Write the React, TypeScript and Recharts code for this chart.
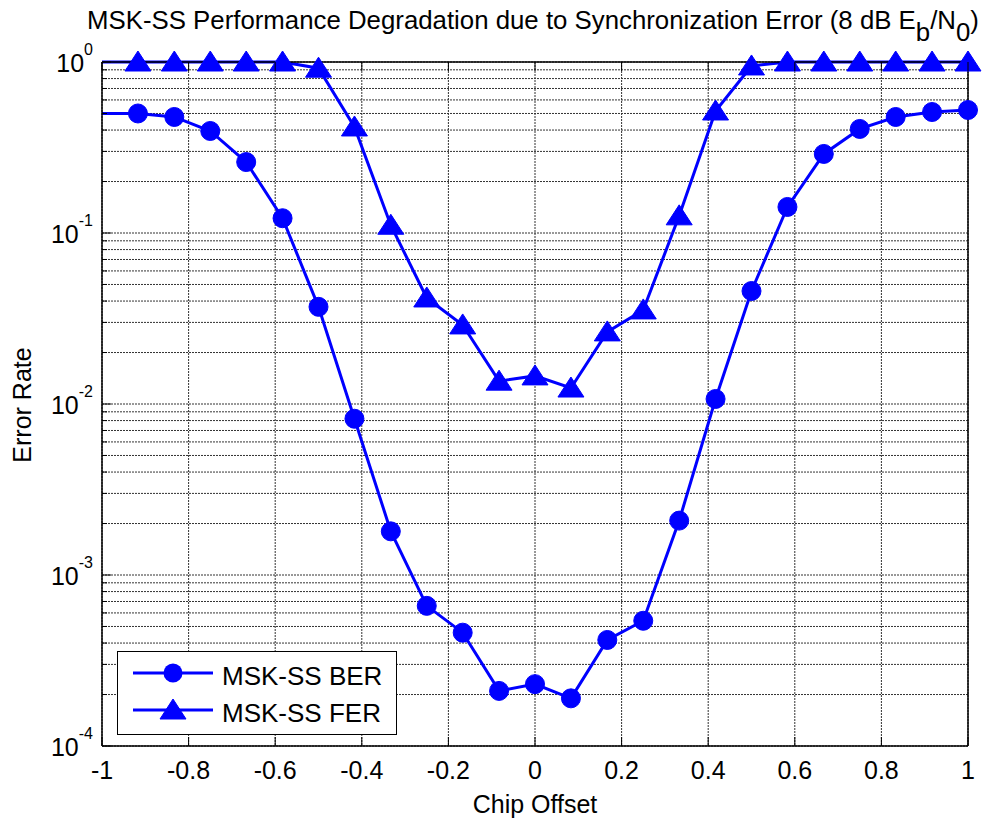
import React from "react";
import {
  LineChart,
  Line,
  XAxis,
  YAxis,
  CartesianGrid,
  Legend,
} from "recharts";

const FONT = '"Liberation Sans", Arial, Helvetica, sans-serif';
const BLUE = "#0000ff";

// chip offsets (steps of 1/12)
const chipOffsets = [
  -1, -0.917, -0.833, -0.75, -0.667, -0.583, -0.5, -0.417, -0.333, -0.25,
  -0.167, -0.083, 0, 0.083, 0.167, 0.25, 0.333, 0.417, 0.5, 0.583, 0.667,
  0.75, 0.833, 0.917, 1,
];

const berValues = [
  0.5, 0.5, 0.477, 0.395, 0.26, 0.122, 0.037, 0.0082, 0.0018, 0.00066,
  0.00046, 0.00021, 0.00023, 0.00019, 0.000417, 0.00054, 0.00208, 0.0107,
  0.0458, 0.142, 0.29, 0.406, 0.477, 0.51, 0.524,
];

const ferValues = [
  1, 1, 1, 1, 1, 1, 0.92, 0.417, 0.111, 0.0417, 0.029, 0.0136, 0.0146,
  0.0124, 0.0264, 0.0355, 0.126, 0.517, 0.948, 1, 1, 1, 1, 1, 1,
];

const xTicks = [-1, -0.8, -0.6, -0.4, -0.2, 0, 0.2, 0.4, 0.6, 0.8, 1];
const xTickLabels = ["-1", "-0.8", "-0.6", "-0.4", "-0.2", "0", "0.2", "0.4", "0.6", "0.8", "1"];

// log ticks: decades plus 2..9 minor lines
const yTicks = [
  0.0001, 0.0002, 0.0003, 0.0004, 0.0005, 0.0006, 0.0007, 0.0008, 0.0009,
  0.001, 0.002, 0.003, 0.004, 0.005, 0.006, 0.007, 0.008, 0.009,
  0.01, 0.02, 0.03, 0.04, 0.05, 0.06, 0.07, 0.08, 0.09,
  0.1, 0.2, 0.3, 0.4, 0.5, 0.6, 0.7, 0.8, 0.9, 1,
];
const decadeExponents: Record<string, string> = {
  "0.0001": "-4",
  "0.001": "-3",
  "0.01": "-2",
  "0.1": "-1",
  "1": "0",
};

const data = chipOffsets.map((x, i) => ({ x, ber: berValues[i], fer: ferValues[i] }));

const isMajor = (v: number) => decadeExponents[String(v)] !== undefined;

function LeftYTick(props: any) {
  const { x, y, payload } = props;
  const exp = decadeExponents[String(payload.value)];
  const len = exp !== undefined ? 9 : 5;
  return (
    <g>
      <line x1={x} x2={x + len} y1={y} y2={y} stroke="#000" />
      {exp !== undefined && (
        <text x={x - 9} y={y + 10} textAnchor="end" fontFamily={FONT} fontSize={25} fill="#000">
          10
          <tspan dy={-17} fontSize={16}>{exp}</tspan>
        </text>
      )}
    </g>
  );
}

function RightYTick(props: any) {
  const { x, y, payload } = props;
  const len = isMajor(payload.value) ? 9 : 5;
  return <line x1={x} x2={x - len} y1={y} y2={y} stroke="#000" />;
}

function BottomXTick(props: any) {
  const { x, y, payload, index } = props;
  return (
    <g>
      <line x1={x} x2={x} y1={y} y2={y - 9} stroke="#000" />
      <text x={x} y={y + 33} textAnchor="middle" fontFamily={FONT} fontSize={25} fill="#000">
        {xTickLabels[index] ?? String(payload.value)}
      </text>
    </g>
  );
}

function TopXTick(props: any) {
  const { x, y } = props;
  return <line x1={x} x2={x} y1={y} y2={y + 9} stroke="#000" />;
}

function CircleDot(props: any) {
  const { cx, cy, index } = props;
  if (index === 0 || cx == null || cy == null) return <g key={`c${index}`} />;
  return <circle key={`c${index}`} cx={cx} cy={cy} r={9.5} fill={BLUE} stroke={BLUE} />;
}

function TriangleMark({ cx, cy, color }: { cx: number; cy: number; color: string }) {
  return (
    <polygon
      points={`${cx},${cy - 11} ${cx + 13},${cy + 9} ${cx - 13},${cy + 9}`}
      fill={color}
      stroke={color}
    />
  );
}

function TriangleDot(props: any) {
  const { cx, cy, index } = props;
  if (index === 0 || cx == null || cy == null) return <g key={`t${index}`} />;
  return (
    <g key={`t${index}`}>
      <TriangleMark cx={cx} cy={cy} color={BLUE} />
    </g>
  );
}

function LegendBox() {
  return (
    <svg width={280} height={84} style={{ display: "block" }}>
      <rect x={0.5} y={0.5} width={279} height={83} fill="#fff" stroke="#000" />
      <line x1={16} x2={96} y1={22} y2={22} stroke={BLUE} strokeWidth={3} />
      <circle cx={56} cy={22} r={9.5} fill={BLUE} />
      <text x={105} y={34} fontFamily={FONT} fontSize={26} fill="#000">MSK-SS BER</text>
      <line x1={16} x2={96} y1={59} y2={59} stroke={BLUE} strokeWidth={3} />
      <TriangleMark cx={56} cy={59} color={BLUE} />
      <text x={105} y={71} fontFamily={FONT} fontSize={26} fill="#000">MSK-SS FER</text>
    </svg>
  );
}

export default function App() {
  return (
    <div style={{ position: "absolute", left: 0, top: 0, width: 982, height: 820, background: "#fff" }}>
      <LineChart
        width={982}
        height={820}
        data={data}
        margin={{ top: 61, right: 13, bottom: 73, left: 101 }}
      >
        <CartesianGrid stroke="#333" strokeDasharray="2 1" strokeWidth={1} />
        <XAxis
          dataKey="x"
          type="number"
          domain={[-1, 1]}
          ticks={xTicks}
          interval={0}
          height={1}
          tickSize={0}
          tickMargin={0}
          tickLine={false}
          axisLine={{ stroke: "#000", strokeWidth: 1.5 }}
          tick={<BottomXTick />}
        />
        <XAxis
          xAxisId="top"
          orientation="top"
          dataKey="x"
          type="number"
          domain={[-1, 1]}
          ticks={xTicks}
          interval={0}
          height={1}
          tickSize={0}
          tickMargin={0}
          tickLine={false}
          axisLine={{ stroke: "#000", strokeWidth: 1.5 }}
          tick={<TopXTick />}
        />
        <YAxis
          type="number"
          scale="log"
          domain={[0.0001, 1]}
          ticks={yTicks}
          interval={0}
          width={1}
          tickSize={0}
          tickMargin={0}
          tickLine={false}
          axisLine={{ stroke: "#000", strokeWidth: 1.5 }}
          tick={<LeftYTick />}
        />
        <YAxis
          yAxisId="right"
          orientation="right"
          type="number"
          scale="log"
          domain={[0.0001, 1]}
          ticks={yTicks}
          interval={0}
          width={1}
          tickSize={0}
          tickMargin={0}
          tickLine={false}
          axisLine={{ stroke: "#000", strokeWidth: 1.5 }}
          tick={<RightYTick />}
        />
        <Line
          dataKey="ber"
          name="MSK-SS BER"
          stroke={BLUE}
          strokeWidth={3}
          dot={CircleDot}
          activeDot={false}
          isAnimationActive={false}
        />
        <Line
          dataKey="fer"
          name="MSK-SS FER"
          stroke={BLUE}
          strokeWidth={3}
          dot={TriangleDot}
          activeDot={false}
          isAnimationActive={false}
        />
        <Legend
          layout="horizontal"
          verticalAlign="middle"
          content={() => <LegendBox />}
          wrapperStyle={{ left: 117, top: 651, width: 280, height: 84 }}
        />
      </LineChart>
      <svg
        width={982}
        height={820}
        style={{ position: "absolute", left: 0, top: 0, pointerEvents: "none" }}
      >
        <text x={533} y={29} textAnchor="middle" fontFamily={FONT} fontSize={25.8} fill="#000">
          MSK-SS Performance Degradation due to Synchronization Error (8 dB E
          <tspan dy={12}>b</tspan>
          <tspan dy={-12}>/N</tspan>
          <tspan dy={12}>0</tspan>
          <tspan dy={-12}>)</tspan>
        </text>
        <text x={535} y={813} textAnchor="middle" fontFamily={FONT} fontSize={25} fill="#000">
          Chip Offset
        </text>
        <text
          transform="translate(31,405) rotate(-90)"
          textAnchor="middle"
          fontFamily={FONT}
          fontSize={25}
          fill="#000"
        >
          Error Rate
        </text>
      </svg>
    </div>
  );
}
